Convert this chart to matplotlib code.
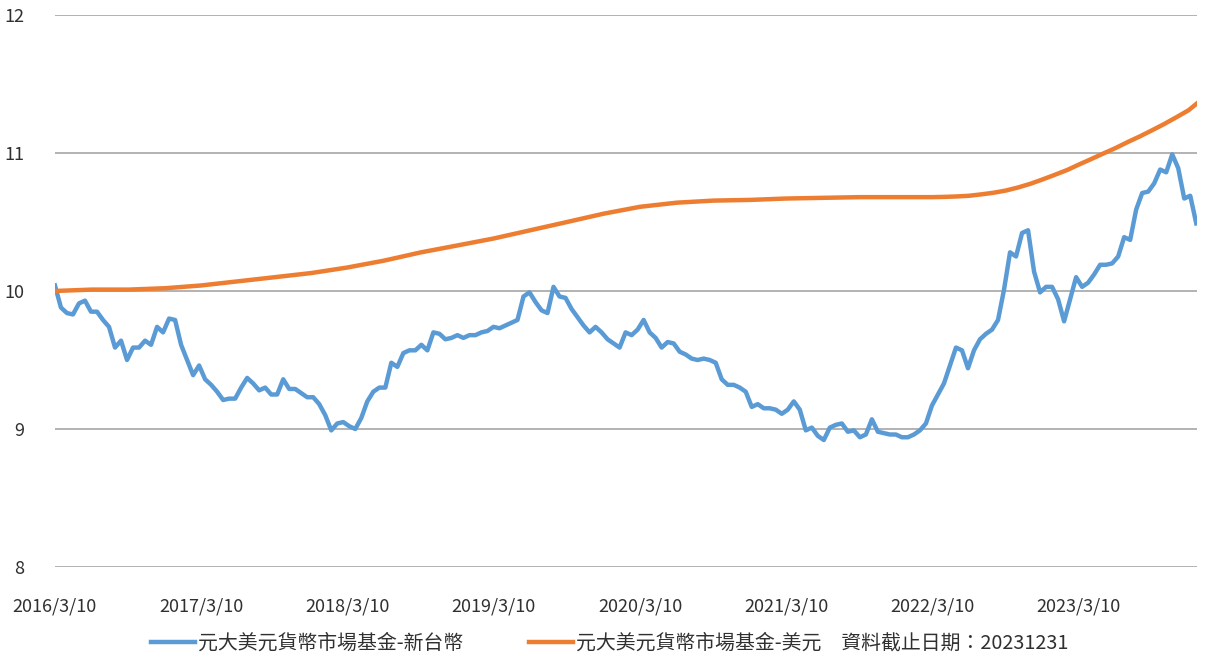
import matplotlib
matplotlib.use("Agg")
import matplotlib.pyplot as plt
import pandas as pd

plt.rcParams['font.family'] = ['Noto Sans CJK TC', 'DejaVu Sans']

# NAV of the TWD share class, one reading every 15 days from 2016/3/10
twd_start = '2016-03-10'
twd_nav = [
    10.04, 9.88, 9.84, 9.83, 9.91, 9.93, 9.85, 9.85, 9.79, 9.74,
    9.59, 9.64, 9.50, 9.59, 9.59, 9.64, 9.61, 9.74, 9.70, 9.80,
    9.79, 9.61, 9.50, 9.39, 9.46, 9.36, 9.32, 9.27, 9.21, 9.22,
    9.22, 9.30, 9.37, 9.33, 9.28, 9.30, 9.25, 9.25, 9.36, 9.29,
    9.29, 9.26, 9.23, 9.23, 9.18, 9.10, 8.99, 9.04, 9.05, 9.02,
    9.00, 9.08, 9.20, 9.27, 9.30, 9.30, 9.48, 9.45, 9.55, 9.57,
    9.57, 9.61, 9.57, 9.70, 9.69, 9.65, 9.66, 9.68, 9.66, 9.68,
    9.68, 9.70, 9.71, 9.74, 9.73, 9.75, 9.77, 9.79, 9.96, 9.99,
    9.92, 9.86, 9.84, 10.03, 9.96, 9.95, 9.87, 9.81, 9.75, 9.70,
    9.74, 9.70, 9.65, 9.62, 9.59, 9.70, 9.68, 9.72, 9.79, 9.70,
    9.66, 9.59, 9.63, 9.62, 9.56, 9.54, 9.51, 9.50, 9.51, 9.50,
    9.48, 9.36, 9.32, 9.32, 9.30, 9.27, 9.16, 9.18, 9.15, 9.15,
    9.14, 9.11, 9.14, 9.20, 9.14, 8.99, 9.01, 8.95, 8.92, 9.01,
    9.03, 9.04, 8.98, 8.99, 8.94, 8.96, 9.07, 8.98, 8.97, 8.96,
    8.96, 8.94, 8.94, 8.96, 8.99, 9.04, 9.17, 9.25, 9.33, 9.46,
    9.59, 9.57, 9.44, 9.57, 9.65, 9.69, 9.72, 9.79, 10.01, 10.28,
    10.25, 10.42, 10.44, 10.14, 9.99, 10.03, 10.03, 9.94, 9.78, 9.94,
    10.10, 10.03, 10.06, 10.12, 10.19, 10.19, 10.20, 10.25, 10.39, 10.37,
    10.59, 10.71, 10.72, 10.78, 10.88, 10.86, 10.99, 10.89, 10.67, 10.69,
    10.49,
]

# NAV of the USD share class: quarterly, monthly once it starts climbing
usd_dates = [
    '2016-03-10', '2016-06-10', '2016-09-10', '2016-12-10',
    '2017-03-10', '2017-06-10', '2017-09-10', '2017-12-10',
    '2018-03-10', '2018-06-10', '2018-09-10', '2018-12-10',
    '2019-03-10', '2019-06-10', '2019-09-10', '2019-12-10',
    '2020-03-10', '2020-06-10', '2020-09-10', '2020-12-10',
    '2021-03-10', '2021-06-10', '2021-09-10', '2021-12-10',
    '2022-03-10', '2022-04-10', '2022-05-10', '2022-06-10',
    '2022-07-10', '2022-08-10', '2022-09-10', '2022-10-10',
    '2022-11-10', '2022-12-10', '2023-01-10', '2023-02-10',
    '2023-03-10', '2023-04-10', '2023-05-10', '2023-06-10',
    '2023-07-10', '2023-08-10', '2023-09-10', '2023-10-10',
    '2023-11-10', '2023-12-10', '2023-12-31',
]
usd_nav = [
    10.00, 10.01, 10.01, 10.02, 10.04, 10.07, 10.10, 10.13,
    10.17, 10.22, 10.28, 10.33, 10.38, 10.44, 10.50, 10.56,
    10.61, 10.64, 10.655, 10.66, 10.67, 10.675, 10.68, 10.68,
    10.68, 10.682, 10.685, 10.69, 10.70, 10.712, 10.728, 10.75,
    10.777, 10.808, 10.842, 10.877, 10.915, 10.955, 10.995, 11.035,
    11.078, 11.12, 11.165, 11.21, 11.26, 11.31, 11.36,
]

x_ticks = ['2016/3/10', '2017/3/10', '2018/3/10', '2019/3/10',
           '2020/3/10', '2021/3/10', '2022/3/10', '2023/3/10']
y_ticks = [8, 9, 10, 11, 12]

twd_label = '元大美元貨幣市場基金-新台幣'
usd_label = '元大美元貨幣市場基金-美元　資料截止日期：20231231'

twd_dates = pd.date_range(twd_start, periods=len(twd_nav), freq='15D')

fig = plt.figure(figsize=(12.05, 6.57), dpi=100)
ax = fig.add_axes([0.0456, 0.137, 0.9478, 0.8402])

ax.plot(twd_dates, twd_nav, color='#5b9bd5', lw=3.2, label=twd_label,
        solid_joinstyle='round', zorder=3)
ax.plot(pd.to_datetime(usd_dates), usd_nav, color='#ed7d31', lw=3.2,
        label=usd_label, zorder=3)

ax.set_xlim(pd.Timestamp('2016-03-10'), pd.Timestamp('2023-12-31'))
ax.set_ylim(8, 12)
ax.set_xticks(pd.to_datetime(x_ticks))
ax.set_xticklabels(x_ticks)
ax.set_yticks(y_ticks)

ax.grid(axis='y', color='#a6a6a6', lw=1.2)
ax.set_axisbelow(True)
for s in ax.spines.values():
    s.set_visible(False)
ax.tick_params(axis='both', length=0, labelsize=13, colors='#303030')
ax.tick_params(axis='x', pad=22)
ax.tick_params(axis='y', pad=22)

fig.legend(loc='center', bbox_to_anchor=(0.506, 0.021), ncol=2, frameon=False,
           fontsize=14.3, handlelength=2.2, handletextpad=0.15,
           columnspacing=3.3, labelcolor='#303030')

fig.savefig('out.png', dpi=100)
